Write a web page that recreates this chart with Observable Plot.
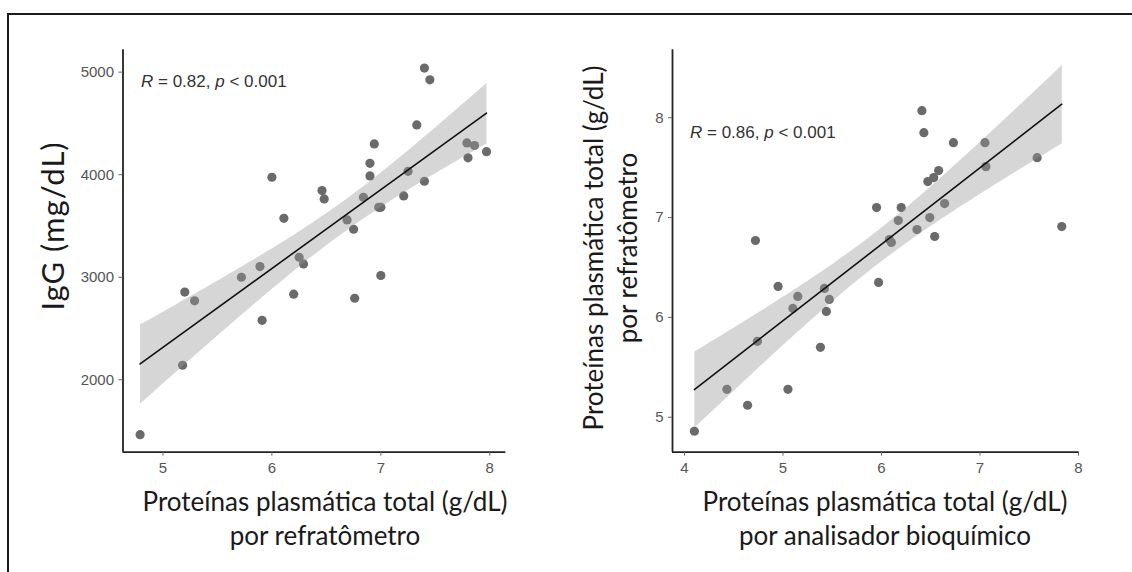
<!DOCTYPE html>
<html>
<head>
<meta charset="utf-8">
<script src="https://cdn.jsdelivr.net/npm/d3@7"></script>
<script src="https://cdn.jsdelivr.net/npm/@observablehq/plot@0.6"></script>
<style>
  html, body { margin: 0; padding: 0; background: #fff; }
  body { width: 1132px; height: 572px; position: relative; overflow: hidden; }
  #frame { position: absolute; left: 7px; top: 13px; right: -10px; bottom: -10px;
           border-top: 2px solid #1a1a1a; border-left: 2px solid #1a1a1a; }
  .pl { position: absolute; top: 0; }
  .title { position: absolute; font-family: Lato, "Open Sans", sans-serif; font-size: 26px;
           color: #1a1a1a; white-space: nowrap; text-align: center; line-height: 34px;
           transform: translate(-50%, -50%); }
  .rot { transform: translate(-50%, -50%) rotate(-90deg); }
  .big { font-size: 31px; letter-spacing: 1px; }
  .ann { position: absolute; font-family: "Liberation Sans", Arial, sans-serif; font-size: 17px;
         color: #333; white-space: nowrap; transform: translateY(-50%); }
</style>
</head>
<body>
<div id="frame"></div>
<div id="left" class="pl" style="left:0px"></div>
<div id="right" class="pl" style="left:560px"></div>

<div class="title rot big" style="left:52px; top:226px">IgG (mg/dL)</div>
<div class="title" style="left:325px; top:518px">Proteínas plasmática total (g/dL)<br>por refratômetro</div>
<div class="title rot" style="left:610px; top:248px">Proteínas plasmática total (g/dL)<br>por refratômetro</div>
<div class="title" style="left:885px; top:518px">Proteínas plasmática total (g/dL)<br>por analisador bioquímico</div>

<div class="ann" style="left:141px; top:82px"><i>R</i> = 0.82, <i>p</i> &lt; 0.001</div>
<div class="ann" style="left:690px; top:133px"><i>R</i> = 0.86, <i>p</i> &lt; 0.001</div>

<script>
// Left panel: total plasma protein (refractometer, g/dL) vs IgG (mg/dL)
const refrat_ptp = [7.40, 7.45, 7.33, 6.94, 7.79, 7.86, 7.97, 7.80, 6.90, 6.90, 7.25, 7.40, 6.00, 6.46, 6.48, 6.84, 7.21, 6.98, 7.00, 6.11, 6.69, 6.75, 6.25, 6.29, 5.89, 5.72, 7.00, 5.20, 5.29, 6.20, 6.76, 5.91, 5.18, 4.79];
const igg_mgdl   = [5040, 4925, 4485, 4300, 4310, 4285, 4225, 4165, 4111, 3988, 4033, 3936, 3975, 3845, 3764, 3780, 3793, 3682, 3682, 3575, 3559, 3468, 3195, 3130, 3104, 3000, 3017, 2855, 2770, 2835, 2795, 2580, 2142, 1465];

// Right panel: total plasma protein (biochemical analyser) vs (refractometer)
const bioq_ptp   = [6.41, 6.43, 6.73, 7.05, 7.58, 7.06, 6.58, 6.53, 6.47, 6.64, 5.95, 6.20, 6.17, 6.49, 7.83, 6.36, 6.54, 6.08, 6.10, 4.72, 5.97, 4.95, 5.15, 5.42, 5.47, 5.10, 5.44, 4.74, 5.38, 4.43, 5.05, 4.64, 4.10];
const refrat_ptp2 = [8.07, 7.85, 7.75, 7.75, 7.60, 7.51, 7.47, 7.40, 7.36, 7.14, 7.10, 7.10, 6.97, 7.00, 6.91, 6.88, 6.81, 6.78, 6.75, 6.77, 6.35, 6.31, 6.21, 6.29, 6.18, 6.09, 6.06, 5.76, 5.70, 5.28, 5.28, 5.12, 4.86];

const leftXTicks = [5, 6, 7, 8];
const leftYTicks = [2000, 3000, 4000, 5000];
const rightXTicks = [4, 5, 6, 7, 8];
const rightYTicks = [5, 6, 7, 8];

function panel(xs, ys, opts) {
  const data = xs.map((x, i) => ({x, y: ys[i]}));
  const fmt = d3.format("d");
  return Plot.plot({
    width: opts.width, height: 480,
    marginLeft: opts.ml, marginRight: opts.mr, marginTop: 49.3, marginBottom: 28.3,
    style: {fontFamily: "'Liberation Sans', Arial, sans-serif", fontSize: "15px", background: "transparent"},
    x: {domain: opts.xd, ticks: opts.xt},
    y: {domain: opts.yd, ticks: opts.yt},
    marks: [
      Plot.dot(data, {x: "x", y: "y", r: 4.6, fill: "#6a6a6a", stroke: "none"}),
      Plot.linearRegressionY(data, {x: "x", y: "y", stroke: "#111", strokeWidth: 1.6,
                                    fill: "#999", fillOpacity: 0.4, ci: 0.95}),
      Plot.ruleX([opts.xd[0]], {stroke: "#222", strokeWidth: 1.8}),
      Plot.ruleY([opts.yd[0]], {stroke: "#222", strokeWidth: 1.8}),
      Plot.axisX(opts.xt, {tickSize: 4, tickPadding: 6, stroke: "#666", color: "#555", label: null, tickFormat: fmt}),
      Plot.axisY(opts.yt, {tickSize: 4, tickPadding: 5, stroke: "#666", color: "#555", label: null, tickFormat: fmt})
    ]
  });
}

document.getElementById("left").append(panel(refrat_ptp, igg_mgdl, {
  width: 566, ml: 122.5, mr: 60.6, xd: [4.633, 8.148], yd: [1294, 5218], xt: leftXTicks, yt: leftYTicks
}));
document.getElementById("right").append(panel(bioq_ptp, refrat_ptp2, {
  width: 572, ml: 112, mr: 53.2, xd: [3.878, 8.008], yd: [4.65, 8.68], xt: rightXTicks, yt: rightYTicks
}));
</script>
</body>
</html>
